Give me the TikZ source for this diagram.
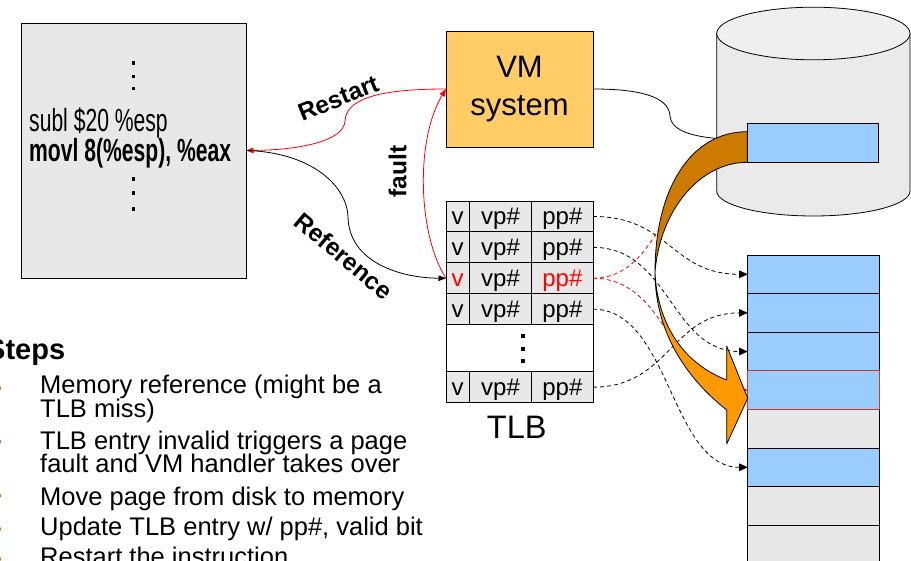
\documentclass[tikz,border=0pt]{standalone}
\usepackage{fontspec}
\setmainfont{Liberation Sans}
\newfontfamily\narrowfont[FakeStretch=0.66]{Liberation Sans}
\usetikzlibrary{arrows.meta}
\definecolor{panelgray}{HTML}{E8E8E8}
\definecolor{vmfill}{HTML}{FFCC66}
\definecolor{pageblue}{HTML}{99CCFF}
\definecolor{diskbody}{HTML}{EAEAEA}
\definecolor{disktop}{HTML}{EFEFEF}
\definecolor{ribbonbrown}{HTML}{CC7A00}
\definecolor{ribbonorange}{HTML}{FF9900}
\definecolor{bulletorange}{HTML}{FF6600}
\definecolor{framered}{HTML}{CC3333}
\definecolor{hotred}{HTML}{FF0000}
\begin{document}
\begin{tikzpicture}[x=1pt, y=-1pt,
  box/.style={draw=black, line width=0.9pt, inner sep=0pt, outer sep=0pt},
  codebox/.style={box, fill=panelgray, minimum width=225pt, minimum height=255pt},
  vmbox/.style={box, fill=vmfill, minimum width=147pt, minimum height=116pt,
    align=center, font=\fontsize{31}{38.3}\selectfont},
  cell/.style={box, fill=panelgray, minimum height=30.9pt, text height=17.5pt,
    text depth=0.5pt, font=\fontsize{24}{24}\selectfont},
  vcell/.style={cell, minimum width=23.3pt},
  vpcell/.style={cell, minimum width=62.4pt},
  ppcell/.style={cell, minimum width=61.3pt},
  gapcell/.style={box, fill=white, minimum width=147pt, minimum height=47.1pt},
  pagebox/.style={box, minimum width=131.3pt, minimum height=38.6pt},
  memused/.style={pagebox, fill=pageblue},
  memfree/.style={pagebox, fill=panelgray},
  conn/.style={line width=0.8pt},
  headtip/.style={-{Triangle[length=8.5pt,width=7.5pt]}},
  smalltip/.style={-{Triangle[length=7.5pt,width=5.5pt]}},
  maplink/.style={conn, dash pattern=on 4pt off 3pt, headtip},
  lbl/.style={font=\fontsize{24.5}{24.5}\selectfont\bfseries, inner sep=0pt},
  stepitem/.style={anchor=base west, inner sep=0pt, font=\fontsize{25.5}{25.5}\selectfont},
  codeline/.style={anchor=base west, inner sep=0pt},
  ribbon/.style={draw=black, line width=0.8pt, line join=round},
]
\useasboundingbox (0,0) rectangle (911,561);

% program listing
\node[codebox] (code) at (133.5,150.5) {};
\foreach \yy in {63.3,76.7,88.7,179,193.3,209.3}
  \fill (131.5,\yy-1.8) rectangle (135.1,\yy+1.8);
\node[codeline, font=\narrowfont\fontsize{32}{32}\selectfont] (subl) at (29,131.7) {subl \$20 \%esp};
\node[codeline, font=\narrowfont\bfseries\fontsize{32}{32}\selectfont] (movl) at (29,161.7) {movl 8(\%esp), \%eax};

% VM system
\node[vmbox] (vm) at (519.5,89) {VM\\system};

% TLB
\node[vcell]  (t1v)  at (457.65,216.45) {v};
\node[vpcell] (t1vp) at (500.5,216.45) {vp\#};
\node[ppcell] (t1pp) at (562.35,216.45) {pp\#};
\node[vcell]  (t2v)  at (457.65,247.35) {v};
\node[vpcell] (t2vp) at (500.5,247.35) {vp\#};
\node[ppcell] (t2pp) at (562.35,247.35) {pp\#};
\node[vcell, text=hotred]  (t3v)  at (457.65,278.25) {v};
\node[vpcell] (t3vp) at (500.5,278.25) {vp\#};
\node[ppcell, text=hotred] (t3pp) at (562.35,278.25) {pp\#};
\node[vcell]  (t4v)  at (457.65,309.15) {v};
\node[vpcell] (t4vp) at (500.5,309.15) {vp\#};
\node[ppcell] (t4pp) at (562.35,309.15) {pp\#};
\node[gapcell] (tgap) at (519.5,348.15) {};
\foreach \yy in {336,349.3,361}
  \fill (520.9,\yy-1.8) rectangle (524.5,\yy+1.8);
\node[vcell]  (t6v)  at (457.65,387.15) {v};
\node[vpcell] (t6vp) at (500.5,387.15) {vp\#};
\node[ppcell] (t6pp) at (562.35,387.15) {pp\#};
\node[anchor=base, inner sep=0pt, font=\fontsize{32.5}{32.5}\selectfont] (tlbname) at (516.7,438.3) {TLB};

% disk
\filldraw[draw=black, line width=0.8pt, fill=diskbody] (716.7,33.5) -- (716.7,191)
  arc[start angle=180, end angle=360, x radius=96.65pt, y radius=25pt] -- (910,33.5) -- cycle;
\filldraw[draw=black, line width=0.8pt, fill=disktop] (813.35,33.5) ellipse[x radius=96.65pt, y radius=26.3pt];
\coordinate (disklink) at (716.7,138.5);
\node[memused] (dblk) at (813.2,143) {};

% physical memory
\node[memused] (m1) at (813.35,274.3) {};
\node[memused] (m2) at (813.35,312.9) {};
\node[memused] (m3) at (813.35,351.5) {};
\node[memfree] (m5) at (813.35,428.7) {};
\node[memused] (m6) at (813.35,467.3) {};
\node[memfree] (m7) at (813.35,505.9) {};
\node[memfree] (m8) at (813.35,544.5) {};
\node[memused, draw=framered] (m4) at (813.35,390.1) {};

% page mappings
\draw[maplink] (t1pp.east) .. controls +(77,0) and +(-77,0) .. (m1.west);
\draw[maplink] (t2pp.east) .. controls +(77,0) and +(-77,0) .. (m3.west);
\draw[maplink] (t4pp.east) .. controls +(77,0) and +(-77,0) .. (m6.west);
\draw[maplink] (t6pp.east) .. controls +(77,0) and +(-77,0) .. (m2.west);
\draw[maplink, hotred] (t3pp.east) .. controls +(77,0) and +(-77,0) .. (dblk.west);
\draw[maplink, hotred] (t3pp.east) .. controls +(77,0) and +(-77,0) .. (m4.west);

% page moved from disk to memory
\filldraw[ribbon, fill=ribbonbrown] (747.3,131.7) .. controls (690,131.7) and (655,190) .. (655,272)
  .. controls (660,210) and (700,162.3) .. (747.3,162.3) -- cycle;
\filldraw[ribbon, fill=ribbonorange] (655,272) .. controls (655,340) and (695,385) .. (726.7,410)
  -- (726.7,444) -- (747.7,398.3) -- (726.7,346) -- (726.7,380)
  .. controls (680,362) and (657,320) .. (655,272) -- cycle;

% control flow
\draw[conn, hotred, smalltip] (vm.west) .. controls (375,89) and (346,100) .. (345,121)
  .. controls (344,141) and (300,150) .. (code.east);
\draw[conn, smalltip] (code.east) .. controls (310,152) and (347,185) .. (348,217)
  .. controls (349,262) and (400,278) .. (t3v.west);
\draw[conn, hotred, smalltip] (t3v.west) .. controls (418,235) and (415,140) .. (vm.west);
\draw[conn] (vm.east) .. controls (638,89) and (669,96) .. (670,116)
  .. controls (671,130) and (690,136) .. (disklink);

\node[lbl, rotate=22] (restartlbl) at (338.3,98.3) {Restart};
\node[lbl, rotate=90] (faultlbl) at (397.5,171.7) {fault};
\node[lbl, rotate=-40] (reflbl) at (344,256) {Reference};

% steps
\node[anchor=base west, inner sep=0pt, font=\fontsize{29}{29}\selectfont\bfseries] (steps) at (-14,359.3) {Steps};
\foreach \yy in {388.3,441.7,495.7,529,559}
  \fill[bulletorange] (-1,\yy) circle[radius=2.2pt];
\node[stepitem] (s1a) at (40,394) {Memory reference (might be a};
\node[stepitem] (s1b) at (40,417.3) {TLB miss)};
\node[stepitem] (s2a) at (40,449.3) {TLB entry invalid triggers a page};
\node[stepitem] (s2b) at (40,472.7) {fault and VM handler takes over};
\node[stepitem] (s3) at (40,505) {Move page from disk to memory};
\node[stepitem] (s4) at (40,535) {Update TLB entry w/ pp\#, valid bit};
\node[stepitem] (s5) at (40,565.6) {Restart the instruction};
\end{tikzpicture}
\end{document}
